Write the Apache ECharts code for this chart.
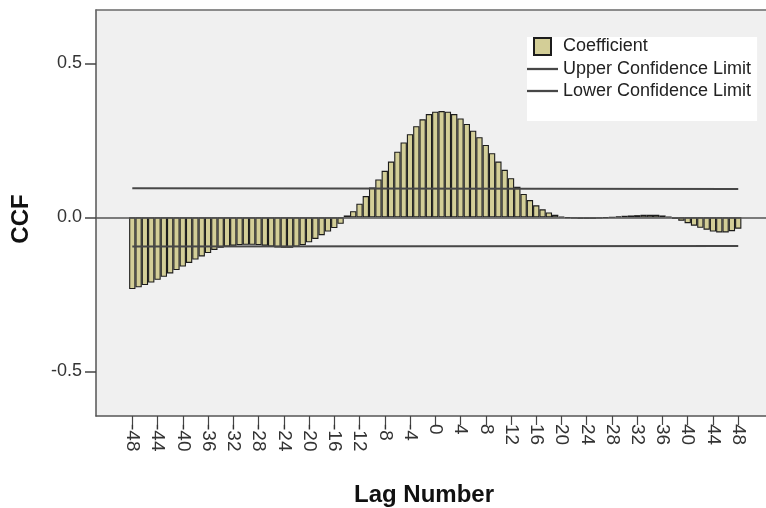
<!DOCTYPE html>
<html>
<head>
<meta charset="utf-8">
<script src="https://cdn.jsdelivr.net/npm/echarts@6/dist/echarts.min.js"></script>
<style>
html,body{margin:0;padding:0;background:#ffffff;}
#chart{width:766px;height:508px;}
</style>
</head>
<body>
<div id="chart"></div>
<script>
// Lag numbers (categories)
const lags = [-48,-47,-46,-45,-44,-43,-42,-41,-40,-39,-38,-37,-36,-35,-34,-33,-32,-31,-30,-29,-28,-27,-26,-25,-24,-23,-22,-21,-20,-19,-18,-17,-16,-15,-14,-13,-12,-11,-10,-9,-8,-7,-6,-5,-4,-3,-2,-1,0,1,2,3,4,5,6,7,8,9,10,11,12,13,14,15,16,17,18,19,20,21,22,23,24,25,26,27,28,29,30,31,32,33,34,35,36,37,38,39,40,41,42,43,44,45,46,47,48];
// Cross-correlation coefficients
const coefficient = [
  -0.233,-0.227,-0.220,-0.212,-0.203,-0.193,-0.182,-0.171,-0.160,-0.148,-0.137,-0.127,-0.116,-0.106,-0.099,-0.095,
  -0.092,-0.090,-0.089,-0.089,-0.090,-0.092,-0.095,-0.098,-0.099,-0.099,-0.096,-0.090,-0.081,-0.070,-0.058,-0.046,
  -0.035,-0.021,0.006,0.020,0.044,0.069,0.097,0.123,0.151,0.181,0.213,0.243,0.270,0.296,0.318,0.335,
  0.343,0.345,0.343,0.335,0.321,0.303,0.281,0.260,0.235,0.208,0.181,0.154,0.127,0.099,0.076,0.056,
  0.039,0.026,0.016,0.008,0.002,-0.002,-0.004,-0.005,-0.005,-0.005,-0.004,-0.002,0.000,0.003,0.005,0.006,
  0.007,0.008,0.008,0.008,0.006,0.002,-0.005,-0.011,-0.019,-0.027,-0.034,-0.040,-0.046,-0.049,-0.049,-0.045,
  -0.037
];
// Confidence limits (endpoints)
const ciLags = [-48, 48];
const upperLimit = [0.094, 0.092];
const lowerLimit = [-0.095, -0.093];
// Axis ticks
const xTicks = [-48,-44,-40,-36,-32,-28,-24,-20,-16,-12,-8,-4,0,4,8,12,16,20,24,28,32,36,40,44,48];
const yTicks = [-0.5, 0.0, 0.5];
const yTickLabels = ['-0.5', '0.0', '0.5'];

const FONT = "'Liberation Sans', Arial, sans-serif";
const chart = echarts.init(document.getElementById('chart'), null, {renderer: 'canvas'});

const barData = lags.map((l, i) => [l, coefficient[i]]);
const upperData = ciLags.map((l, i) => [l, upperLimit[i]]);
const lowerData = ciLags.map((l, i) => [l, lowerLimit[i]]);

const X_MIN = -53.75, X_MAX = 52.4;

chart.setOption({
  animation: false,
  backgroundColor: '#ffffff',
  textStyle: {fontFamily: FONT},
  grid: {
    left: 96, top: 10, right: 0, height: 406,
    outerBoundsMode: 'none', containLabel: false,
    show: true, backgroundColor: '#f0f0f0', borderWidth: 0
  },
  legend: {
    orient: 'vertical', left: 527, top: 37,
    padding: [0, 6, 21, 0],
    backgroundColor: '#ffffff',
    itemWidth: 31, itemHeight: 17, itemGap: 4,
    textStyle: {fontFamily: FONT, fontSize: 18, color: '#222', lineHeight: 17},
    data: [
      {name: 'Coefficient', icon: 'path://M0,0H17V17H0Z'},
      {name: 'Upper Confidence Limit', icon: 'path://M0,0H30V2.2H0Z'},
      {name: 'Lower Confidence Limit', icon: 'path://M0,0H30V2.2H0Z'}
    ]
  },
  xAxis: [
    {
      type: 'value', min: X_MIN, max: X_MAX, position: 'bottom',
      name: 'Lag Number', nameLocation: 'middle', nameGap: 67,
      nameTextStyle: {fontFamily: FONT, fontSize: 24, fontWeight: 'bold', color: '#111', padding: [0, 14, 0, 0]},
      splitLine: {show: false},
      axisLine: {show: true, onZero: false, lineStyle: {color: '#555', width: 1.5}},
      axisTick: {show: true, length: 9, customValues: xTicks, lineStyle: {color: '#444', width: 1.2}},
      axisLabel: {
        customValues: xTicks, rotate: -90, margin: 8,
        fontFamily: FONT, fontSize: 19, color: '#333',
        formatter: v => String(v)
      }
    },
    {
      type: 'value', min: X_MIN, max: X_MAX, position: 'top',
      splitLine: {show: false},
      axisLine: {show: true, onZero: false, lineStyle: {color: '#6a6a6a', width: 1.5}},
      axisTick: {show: false}, axisLabel: {show: false}
    }
  ],
  yAxis: {
    type: 'value', min: -0.645, max: 0.673,
    name: 'CCF', nameLocation: 'middle', nameGap: 63, nameRotate: 90,
    nameTextStyle: {fontFamily: FONT, fontSize: 24, fontWeight: 'bold', color: '#111', padding: [0, 12, 0, 0]},
    splitLine: {show: false},
    axisLine: {show: true, onZero: false, lineStyle: {color: '#555', width: 1.5}},
    axisTick: {show: true, length: 11, customValues: yTicks, lineStyle: {color: '#444', width: 1.5}},
    axisLabel: {
      customValues: yTicks, margin: 14,
      fontFamily: FONT, fontSize: 18, color: '#333',
      formatter: v => yTickLabels[yTicks.findIndex(t => Math.abs(t - v) < 1e-9)]
    }
  },
  series: [
    {
      name: 'Coefficient', type: 'bar', data: barData, barWidth: 6.31,
      itemStyle: {color: '#d3ce97', borderColor: '#1c1c1c', borderWidth: 1.1},
      markLine: {
        silent: true, symbol: ['none', 'none'], z: 5,
        label: {show: false},
        lineStyle: {color: '#555', width: 1.5, type: 'solid'},
        data: [{yAxis: 0}]
      }
    },
    {
      name: 'Upper Confidence Limit', type: 'line', data: upperData, z: 4,
      showSymbol: false, symbol: 'none', color: '#474747',
      itemStyle: {color: '#474747'},
      lineStyle: {color: '#474747', width: 2}
    },
    {
      name: 'Lower Confidence Limit', type: 'line', data: lowerData, z: 4,
      showSymbol: false, symbol: 'none', color: '#474747',
      itemStyle: {color: '#474747'},
      lineStyle: {color: '#474747', width: 2}
    }
  ]
});
</script>
</body>
</html>
